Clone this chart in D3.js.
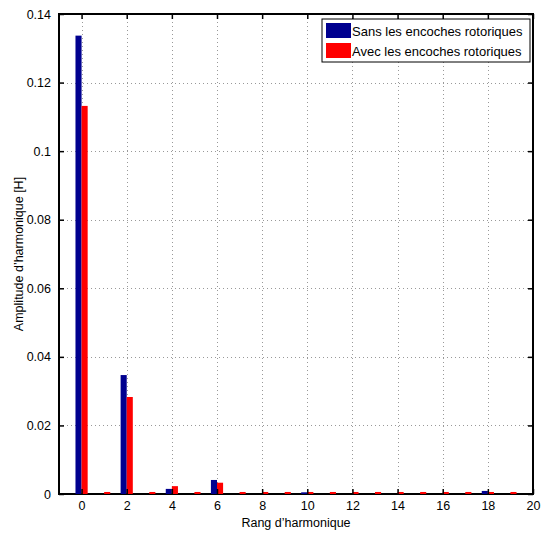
<!DOCTYPE html>
<html><head><meta charset="utf-8">
<script src="https://cdn.jsdelivr.net/npm/d3@7/dist/d3.min.js"></script>
<style>body{margin:0;background:#fff}svg{display:block}text{font-family:"Liberation Sans",Arial,sans-serif}</style>
</head><body>
<script>
const harmonics = d3.range(0, 20);
const sansEncoches = [0.1334,0,0.0344,0,0.0012,0,0.0038,0,0,0,0.0002,0,0,0,0,0,0,0,0.0006,0];
const avecEncoches = [0.1129,0.0003,0.0280,0.0003,0.0020,0.0003,0.0030,0.0003,0.0003,0.0003,0.0003,0.0003,0.0003,0.0003,0.0003,0.0003,0.0003,0.0003,0.0003,0.0003];
const xTicks = d3.range(0, 21, 2);
const yTicks = [0,0.02,0.04,0.06,0.08,0.1,0.12,0.14];
const seriesNames = ["Sans les encoches rotoriques","Avec les encoches rotoriques"];
const colors = ["#00008f","#ff0000"];

const W=547,H=538, L=59, R=533, T=14, B=494;
const svg=d3.select("body").append("svg").attr("width",W).attr("height",H);
const x=d3.scaleLinear().domain([-1,20]).range([L,R]);
const y=d3.scaleLinear().domain([0,0.14]).range([B,T]);
const bw = x(0.27)-x(0);

// grid
const g=svg.append("g");
g.selectAll(".gx").data(xTicks.filter(d=>d>-1&&d<20)).enter().append("line")
 .attr("x1",d=>Math.round(x(d))+0.5).attr("x2",d=>Math.round(x(d))+0.5).attr("y1",T).attr("y2",B)
 .attr("stroke","#999").attr("stroke-width",1).attr("stroke-dasharray","1,3");
g.selectAll(".gy").data(yTicks.filter(d=>d>0&&d<0.14)).enter().append("line")
 .attr("x1",L).attr("x2",R).attr("y1",d=>Math.round(y(d))+0.5).attr("y2",d=>Math.round(y(d))+0.5)
 .attr("stroke","#999").attr("stroke-width",1).attr("stroke-dasharray","1,3");

// frame
svg.append("rect").attr("x",L).attr("y",T).attr("width",R-L).attr("height",B-T)
 .attr("fill","none").attr("stroke","#000").attr("stroke-width",2);

// bars
const data=harmonics.map((h,i)=>({h,a:sansEncoches[i],b:avecEncoches[i]}));
svg.append("g").selectAll("rect").data(data.filter(d=>d.a>0)).enter().append("rect")
 .attr("x",d=>x(d.h)-bw).attr("width",bw).attr("y",d=>y(d.a)-1).attr("height",d=>y(0)-y(d.a)+1)
 .attr("fill",colors[0]);
svg.append("g").selectAll("rect").data(data.filter(d=>d.b>0)).enter().append("rect")
 .attr("x",d=>x(d.h)).attr("width",bw).attr("y",d=>y(d.b)-1).attr("height",d=>y(0)-y(d.b)+1)
 .attr("fill",colors[1]);

const FS=12.5;
// axes
const xAxis=d3.axisBottom(x).tickValues(xTicks).tickSize(-5).tickPadding(7).tickFormat(d3.format("d"));
const ax=svg.append("g").attr("transform",`translate(0,${B})`).call(xAxis);
ax.select(".domain").remove();
ax.selectAll(".tick line").attr("stroke","#000").attr("stroke-width",1.5);
ax.selectAll("text").attr("font-size",FS).attr("fill","#000").style("font-family",'"Liberation Sans",Arial,sans-serif');
const ax2=svg.append("g").attr("transform",`translate(0,${T})`).call(d3.axisTop(x).tickValues(xTicks).tickSize(-5).tickFormat(""));
ax2.select(".domain").remove(); ax2.selectAll(".tick line").attr("stroke","#000").attr("stroke-width",1.5);

const yAxis=d3.axisLeft(y).tickValues(yTicks).tickSize(-5).tickPadding(8).tickFormat(d=>String(+d.toFixed(2)));
const ay=svg.append("g").attr("transform",`translate(${L},0)`).call(yAxis);
ay.select(".domain").remove();
ay.selectAll(".tick line").attr("stroke","#000").attr("stroke-width",1.5);
ay.selectAll("text").attr("font-size",FS).attr("fill","#000").style("font-family",'"Liberation Sans",Arial,sans-serif');
const ay2=svg.append("g").attr("transform",`translate(${R},0)`).call(d3.axisRight(y).tickValues(yTicks).tickSize(-5).tickFormat(""));
ay2.select(".domain").remove(); ay2.selectAll(".tick line").attr("stroke","#000").attr("stroke-width",1.5);

// labels
svg.append("text").attr("x",(L+R)/2).attr("y",527).attr("text-anchor","middle").attr("font-size",FS).text("Rang d\u2019harmonique");
svg.append("text").attr("transform",`translate(23,${(T+B)/2}) rotate(-90)`).attr("text-anchor","middle").attr("font-size",FS).text("Amplitude d\u2019harmonique [H]");

// legend
const lg=svg.append("g");
lg.append("rect").attr("x",322).attr("y",19).attr("width",208).attr("height",43).attr("fill","#fff").attr("stroke","#000").attr("stroke-width",1);
seriesNames.forEach((n,i)=>{
  lg.append("rect").attr("x",326).attr("y",23+i*20).attr("width",25).attr("height",15).attr("fill",colors[i]);
  lg.append("text").attr("x",352).attr("y",35.5+i*20).attr("font-size",13).text(n);
});
</script>
</body></html>
